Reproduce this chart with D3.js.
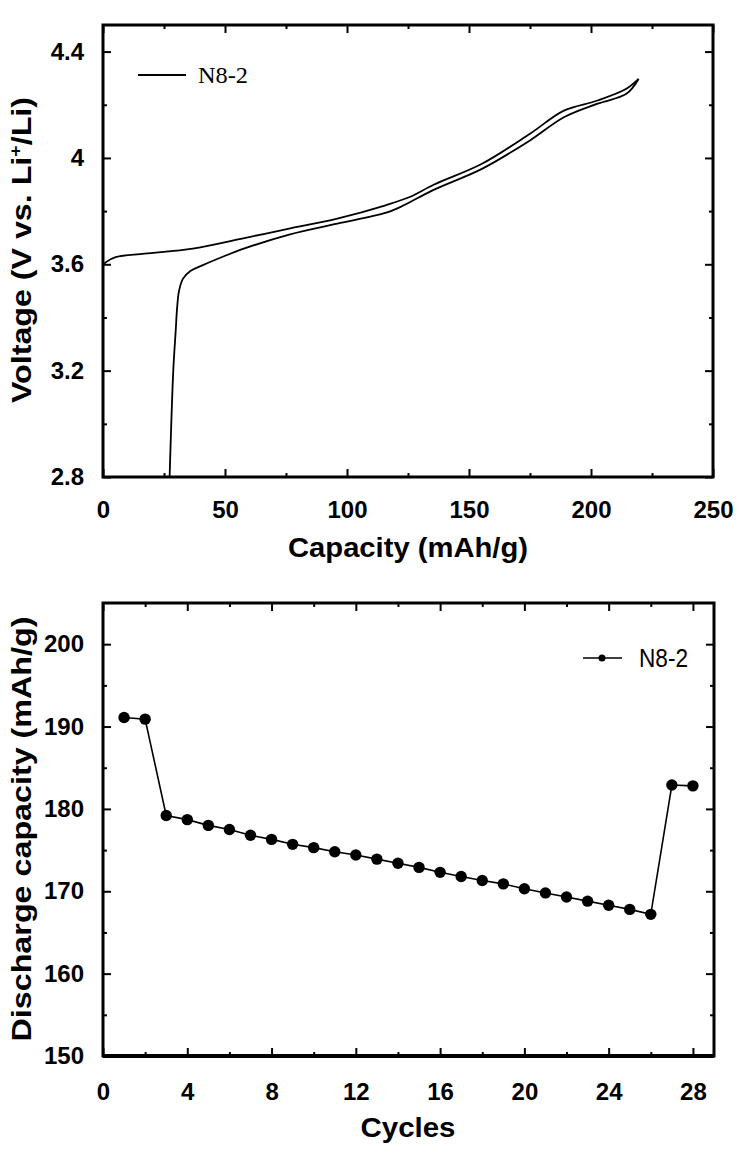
<!DOCTYPE html>
<html><head><meta charset="utf-8">
<script src="https://cdn.jsdelivr.net/npm/d3@7"></script>
<style>
html,body{margin:0;padding:0;background:#fff;}
svg{display:block;}
</style></head>
<body>
<svg id="c" width="754" height="1156"></svg>
<script>
// ---- Top chart data (voltage profile) ----
const chargeCapacity = [0, 1.2, 5.2, 17.0, 36.8, 56.5, 76.3, 96.0, 115.8, 125.7, 135.5, 155.3, 175.0, 188.9, 202.7, 214.5, 219.5];
const chargeVoltage  = [3.595, 3.608, 3.627, 3.640, 3.659, 3.696, 3.734, 3.772, 3.822, 3.853, 3.899, 3.978, 4.091, 4.178, 4.216, 4.260, 4.297];
const dischargeCapacity = [219.5, 214.5, 202.7, 188.9, 175.0, 155.3, 135.5, 121.8, 115.8, 96.0, 76.3, 56.5, 50.6, 40.7, 35.8, 32.8, 31.2, 30.4, 29.8, 28.8, 27.3];
const dischargeVoltage  = [4.297, 4.241, 4.204, 4.153, 4.066, 3.959, 3.880, 3.815, 3.793, 3.753, 3.712, 3.655, 3.634, 3.596, 3.575, 3.546, 3.502, 3.440, 3.350, 3.200, 2.800];
const topXTicks = [0, 50, 100, 150, 200, 250];
const topYTicks = [2.8, 3.2, 3.6, 4.0, 4.4];
const topYTickLabels = ["2.8", "3.2", "3.6", "4", "4.4"];

// ---- Bottom chart data (cycling) ----
const cycles = [1,2,3,4,5,6,7,8,9,10,11,12,13,14,15,16,17,18,19,20,21,22,23,24,25,26,27,28];
const dischargeCap = [191.1, 190.9, 179.2, 178.7, 178.0, 177.5, 176.8, 176.3, 175.7, 175.3, 174.8, 174.4, 173.9, 173.4, 172.9, 172.3, 171.8, 171.3, 170.9, 170.3, 169.8, 169.3, 168.8, 168.3, 167.8, 167.2, 182.9, 182.8];
const botXTicks = [0, 4, 8, 12, 16, 20, 24, 28];
const botYTicks = [150, 160, 170, 180, 190, 200];
const seriesName = "N8-2";

const svg = d3.select("#c");
const tickFont = "'Liberation Sans', Arial, sans-serif";

function frameAxes(g, x, y, xMaj, xMin, yMaj, yMin, yFmt, xFmt, box, xPad) {
  const [L, R, T, B] = box;
  const style = sel => {
    sel.select(".domain").remove();
    sel.selectAll("line").attr("stroke", "#000").attr("stroke-width", 2);
    sel.selectAll("text").attr("font-family", tickFont).attr("font-weight", "bold")
      .attr("font-size", 24).attr("fill", "#000");
  };
  // bottom
  g.append("g").attr("transform", `translate(0,${B})`)
    .call(d3.axisBottom(x).tickValues(xMaj).tickSize(-8).tickPadding(xPad).tickFormat(xFmt)).call(style);
  g.append("g").attr("transform", `translate(0,${B})`)
    .call(d3.axisBottom(x).tickValues(xMin).tickSize(-4).tickFormat("")).call(style);
  // top
  g.append("g").attr("transform", `translate(0,${T})`)
    .call(d3.axisTop(x).tickValues(xMaj).tickSize(-8).tickFormat("")).call(style);
  g.append("g").attr("transform", `translate(0,${T})`)
    .call(d3.axisTop(x).tickValues(xMin).tickSize(-4).tickFormat("")).call(style);
  // left
  g.append("g").attr("transform", `translate(${L},0)`)
    .call(d3.axisLeft(y).tickValues(yMaj).tickSize(-8).tickPadding(19).tickFormat(yFmt)).call(style);
  g.append("g").attr("transform", `translate(${L},0)`)
    .call(d3.axisLeft(y).tickValues(yMin).tickSize(-4).tickFormat("")).call(style);
  // right
  g.append("g").attr("transform", `translate(${R},0)`)
    .call(d3.axisRight(y).tickValues(yMaj).tickSize(-8).tickFormat("")).call(style);
  g.append("g").attr("transform", `translate(${R},0)`)
    .call(d3.axisRight(y).tickValues(yMin).tickSize(-4).tickFormat("")).call(style);
  // frame
  g.append("rect").attr("x", L).attr("y", T).attr("width", R - L).attr("height", B - T)
    .attr("fill", "none").attr("stroke", "#000").attr("stroke-width", 3);
}

// ================= TOP CHART =================
{
  const L = 103, R = 713, T = 25, B = 477;
  const x = d3.scaleLinear().domain([0, 250]).range([L, R]);
  const y = d3.scaleLinear().domain([2.8, 4.5]).range([B, T]);
  const g = svg.append("g");
  const xMin = d3.range(25, 250, 50);
  const yMin = [3.0, 3.4, 3.8, 4.2];
  frameAxes(g, x, y, topXTicks, xMin, topYTicks, yMin,
    d => topYTickLabels[topYTicks.indexOf(d)], d => String(d), [L, R, T, B], 24);

  const line = d3.line().x(d => x(d[0])).y(d => y(d[1])).curve(d3.curveCatmullRom.alpha(0.5));
  const charge = chargeCapacity.map((c, i) => [c, chargeVoltage[i]]);
  const dis = dischargeCapacity.map((c, i) => [c, dischargeVoltage[i]]);
  g.append("path").attr("d", line(charge)).attr("fill", "none").attr("stroke", "#000").attr("stroke-width", 1.8);
  g.append("path").attr("d", line(dis)).attr("fill", "none").attr("stroke", "#000").attr("stroke-width", 1.8);

  // legend
  g.append("line").attr("x1", 138).attr("x2", 186).attr("y1", 75).attr("y2", 75)
    .attr("stroke", "#000").attr("stroke-width", 1.8);
  g.append("text").attr("x", 198).attr("y", 83).text(seriesName)
    .attr("font-family", "'Liberation Serif', 'Times New Roman', serif").attr("font-size", 23)
    .attr("textLength", 50).attr("lengthAdjust", "spacingAndGlyphs");

  // axis titles
  g.append("text").attr("x", 408).attr("y", 557).attr("text-anchor", "middle")
    .attr("font-family", tickFont).attr("font-weight", "bold").attr("font-size", 28)
    .attr("textLength", 240).attr("lengthAdjust", "spacingAndGlyphs")
    .text("Capacity (mAh/g)");
  const yt = g.append("text").attr("transform", "translate(31,250) rotate(-90)").attr("text-anchor", "middle")
    .attr("font-family", tickFont).attr("font-weight", "bold").attr("font-size", 28)
    .attr("textLength", 306).attr("lengthAdjust", "spacingAndGlyphs");
  yt.append("tspan").text("Voltage (V vs. Li");
  yt.append("tspan").text("+").attr("font-size", 17).attr("dy", -10);
  yt.append("tspan").text("/Li)").attr("dy", 10);
}

// ================= BOTTOM CHART =================
{
  const L = 103, R = 714, T = 603, B = 1056;
  const x = d3.scaleLinear().domain([0, 29]).range([L, R]);
  const y = d3.scaleLinear().domain([150, 205]).range([B, T]);
  const g = svg.append("g");
  const xMin = d3.range(2, 29, 4);
  const yMin = [155, 165, 175, 185, 195];
  frameAxes(g, x, y, botXTicks, xMin, botYTicks, yMin, d => String(d), d => String(d), [L, R, T, B], 27);
  // thicker bottom axis line
  g.append("line").attr("x1", L).attr("x2", R).attr("y1", B).attr("y2", B)
    .attr("stroke", "#000").attr("stroke-width", 4);

  const pts = cycles.map((c, i) => [c, dischargeCap[i]]);
  g.append("path").attr("d", d3.line().x(d => x(d[0])).y(d => y(d[1]))(pts))
    .attr("fill", "none").attr("stroke", "#000").attr("stroke-width", 1.6);
  g.selectAll("circle.pt").data(pts).join("circle").attr("class", "pt")
    .attr("cx", d => x(d[0])).attr("cy", d => y(d[1])).attr("r", 5.7).attr("fill", "#000");

  // legend
  g.append("line").attr("x1", 583).attr("x2", 622).attr("y1", 658).attr("y2", 658)
    .attr("stroke", "#000").attr("stroke-width", 1.6);
  g.append("circle").attr("cx", 602).attr("cy", 658).attr("r", 3.5).attr("fill", "#000");
  g.append("text").attr("x", 639).attr("y", 667).text(seriesName)
    .attr("font-family", tickFont).attr("font-size", 25)
    .attr("textLength", 49).attr("lengthAdjust", "spacingAndGlyphs");

  g.append("text").attr("x", 408).attr("y", 1137).attr("text-anchor", "middle")
    .attr("font-family", tickFont).attr("font-weight", "bold").attr("font-size", 28)
    .attr("textLength", 95).attr("lengthAdjust", "spacingAndGlyphs")
    .text("Cycles");
  g.append("text").attr("transform", "translate(31,829) rotate(-90)").attr("text-anchor", "middle")
    .attr("font-family", tickFont).attr("font-weight", "bold").attr("font-size", 28)
    .attr("textLength", 425).attr("lengthAdjust", "spacingAndGlyphs")
    .text("Discharge capacity (mAh/g)");
}
</script>
</body></html>
